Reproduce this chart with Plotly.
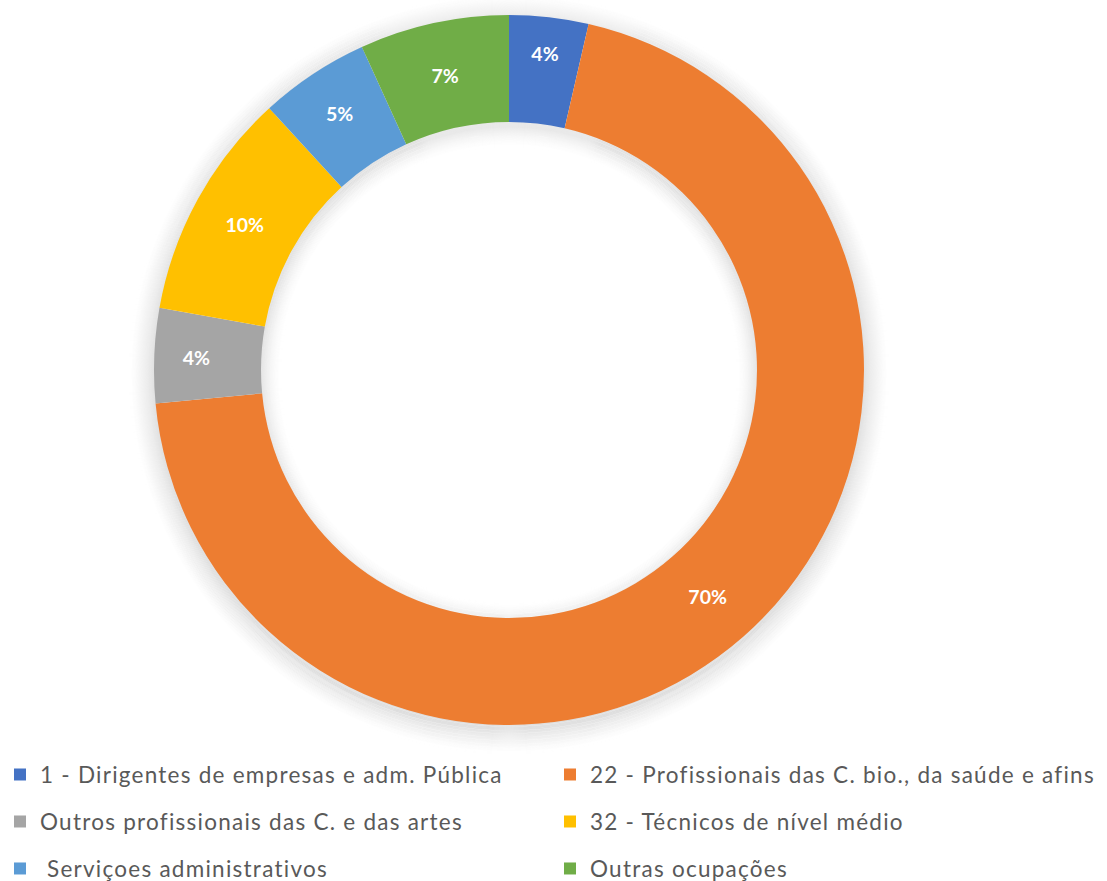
import plotly.graph_objects as go

# ---- data ----
labels = [
    "1 - Dirigentes de empresas e adm. Pública",
    "22 - Profissionais das C. bio., da saúde e afins",
    "Outros profissionais das C. e das artes",
    "32 - Técnicos de nível médio",
    " Serviçoes administrativos",
    "Outras ocupações",
]
values = [3.6, 69.9, 4.3, 10.4, 5.0, 6.8]
colors = ["#4472C4", "#ED7D31", "#A5A5A5", "#FFC000", "#5B9BD5", "#70AD47"]

# ---- layout constants (pixels) ----
W, H = 1107, 881
cx, cy, R = 509, 370, 355
R_IN = 248

def px_x(x):
    return x / W

def px_y(y):
    return 1 - y / H

legend_names = [
    "<br><br><span style='font-size:22.5px;letter-spacing:1.25px'>%s</span><br>" % l
    for l in labels
]

fig = go.Figure()
fig.add_trace(go.Pie(
    labels=legend_names,
    values=values,
    sort=False,
    direction="clockwise",
    rotation=0,
    hole=R_IN / R,
    marker=dict(colors=colors, line=dict(width=0)),
    texttemplate="%{percent:.0%}",
    textposition="inside",
    insidetextorientation="horizontal",
    textfont=dict(family="Lato", size=19.5, color="white", weight="bold"),
    domain=dict(x=[px_x(cx - R), px_x(cx + R)], y=[px_y(cy + R), px_y(cy - R)]),
    hoverinfo="label+percent",
))

shapes = []
# soft outer shadow (rings only, slightly offset downward)
for k in range(0, 32):
    d = k - 5
    r = R + d
    a = 0.10 * (1 - max(d, 0) / 27) ** 1.5
    shapes.append(dict(type="circle", xref="paper", yref="paper", layer="below",
                       x0=px_x(cx - r), x1=px_x(cx + r), y0=px_y(cy + r + 4), y1=px_y(cy - r + 4),
                       line=dict(width=1.2, color="rgba(0,0,0,%.4f)" % a)))
# inner shadow in hole
for k in range(0, 28):
    d = k - 5
    r = R_IN - d
    a = 0.09 * (1 - max(d, 0) / 23) ** 1.8
    shapes.append(dict(type="circle", xref="paper", yref="paper", layer="below",
                       x0=px_x(cx - r), x1=px_x(cx + r), y0=px_y(cy + r + 5), y1=px_y(cy - r + 5),
                       line=dict(width=1.2, color="rgba(0,0,0,%.4f)" % a)))

fig.update_layout(
    width=W, height=H, autosize=False,
    margin=dict(l=0, r=0, t=0, b=0, autoexpand=False),
    paper_bgcolor="white", plot_bgcolor="white",
    shapes=shapes,
    showlegend=True,
    legend=dict(
        orientation="h",
        x=0, xanchor="left",
        y=px_y(746), yanchor="top",
        entrywidth=505, entrywidthmode="pixels",
        font=dict(family="Lato", size=8.46, color="#595959"),
        bgcolor="rgba(0,0,0,0)",
        traceorder="normal",
    ),
)

fig.write_html("out.html", config={"displayModeBar": False},
               post_script="document.body.style.margin='0';")
